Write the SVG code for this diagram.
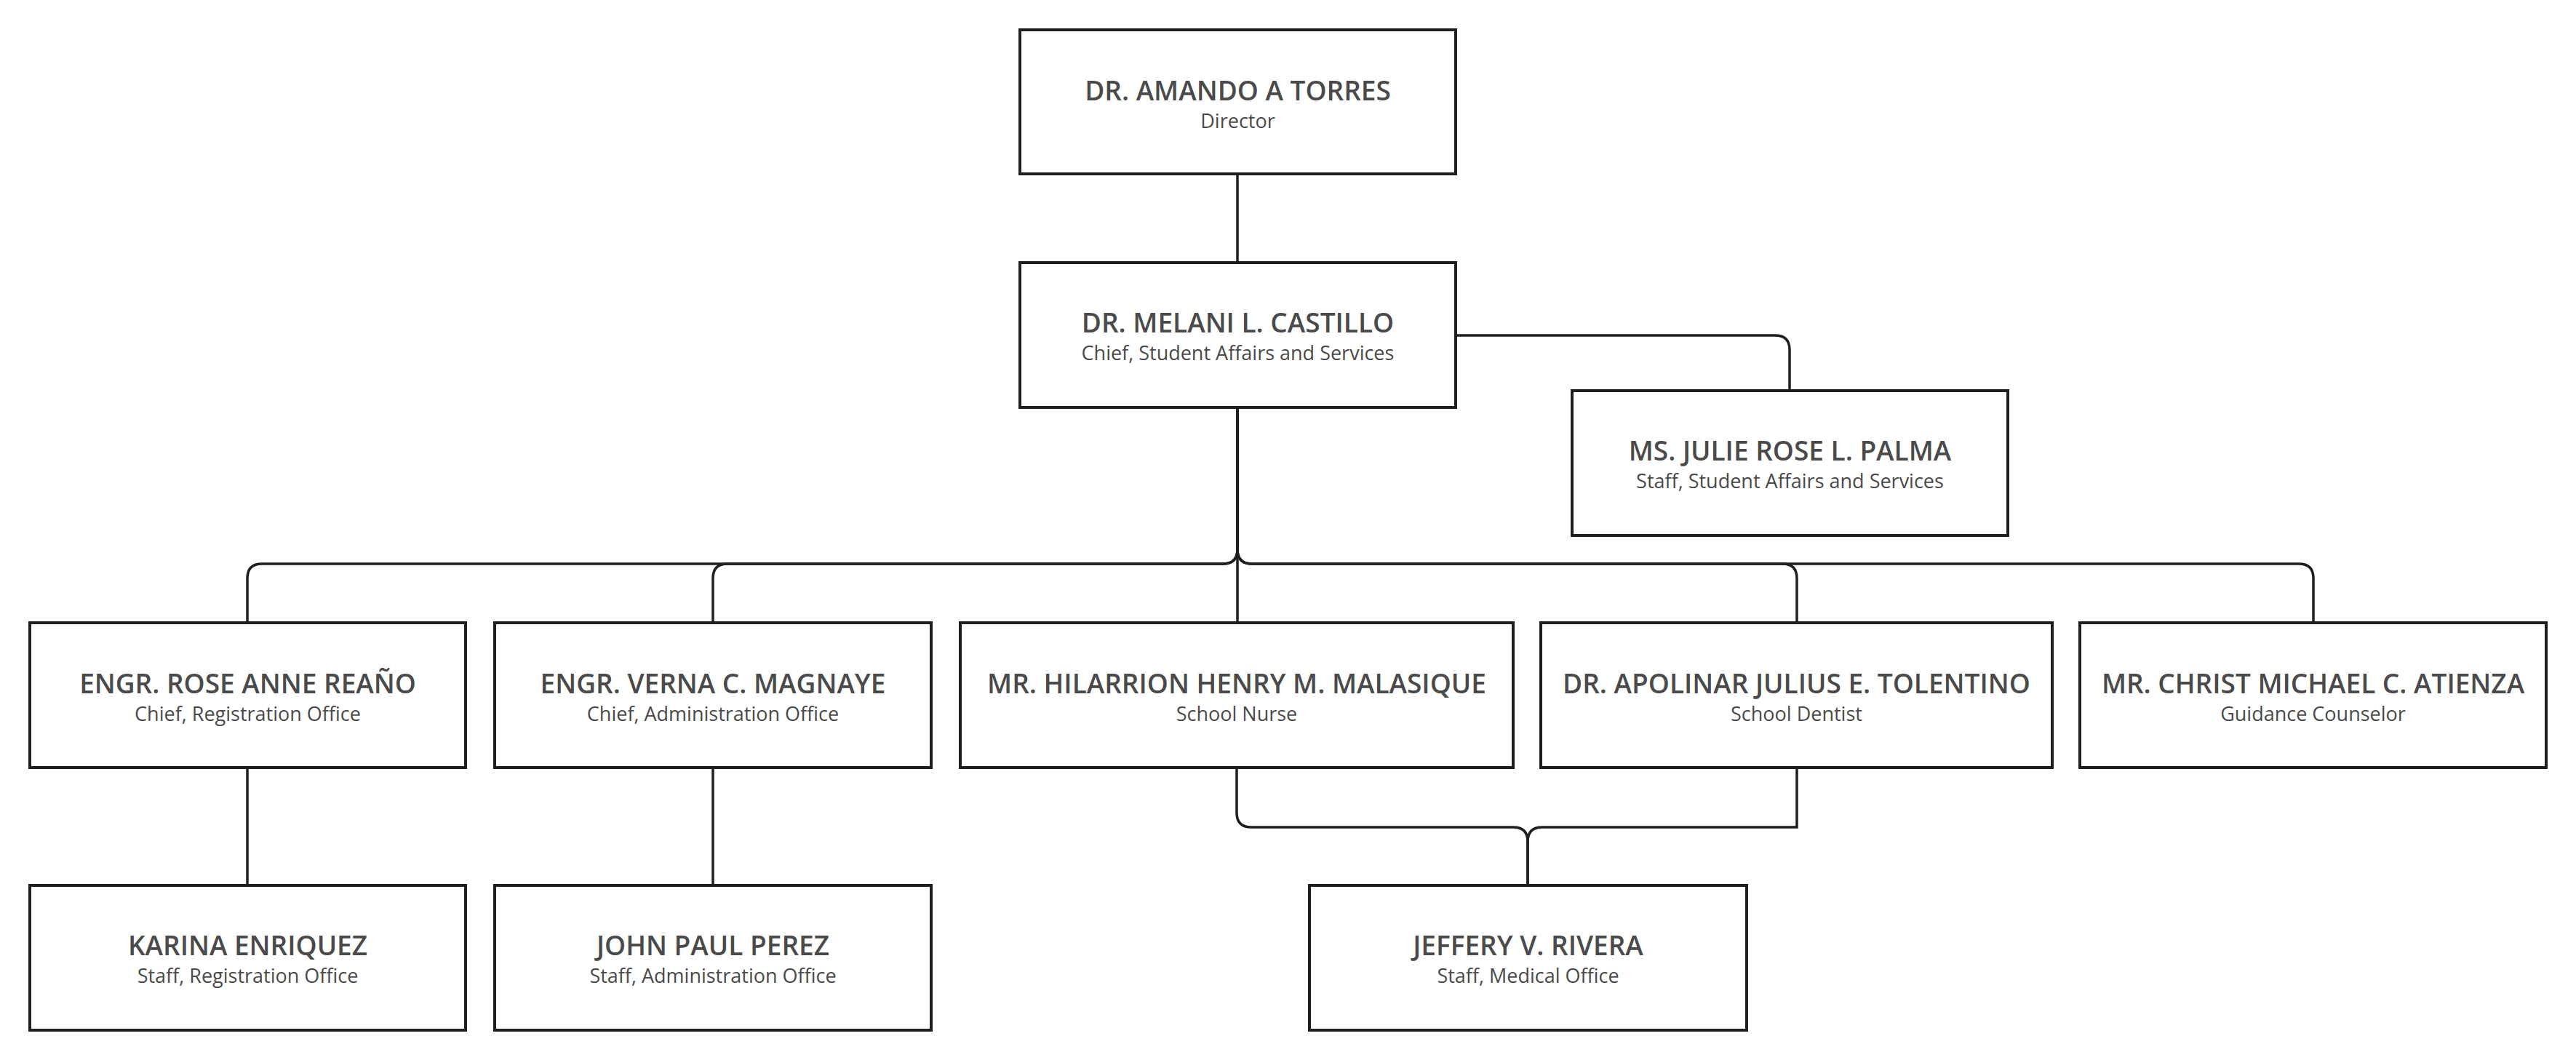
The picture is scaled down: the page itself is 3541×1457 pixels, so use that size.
<svg xmlns="http://www.w3.org/2000/svg" width="3541" height="1457" viewBox="0 0 3541 1457">
<style>
.box{fill:#ffffff;stroke:#1f1f1f;stroke-width:4}
.name{font-family:"Open Sans","Noto Sans",sans-serif;font-weight:600;font-size:37px;fill:#4a4a4a;text-anchor:middle}
.role{font-family:"Open Sans","Noto Sans",sans-serif;font-weight:400;font-size:27px;fill:#4a4a4a;text-anchor:middle}
.conn{fill:none;stroke:#1f1f1f;stroke-width:3.5}
</style>
<rect width="3541" height="1457" fill="#ffffff"/>
<g id="connectors">
<path class="conn" d="M1701,239 V361"/>
<path class="conn" d="M2001,461 H2440 Q2460,461 2460,481 V537"/>
<path class="conn" d="M1701,560 V755 Q1701,775 1681,775 H360 Q340,775 340,795 V856"/>
<path class="conn" d="M1701,560 V755 Q1701,775 1681,775 H1000 Q980,775 980,795 V856"/>
<path class="conn" d="M1701,560 V856"/>
<path class="conn" d="M1701,560 V755 Q1701,775 1721,775 H2450 Q2470,775 2470,795 V856"/>
<path class="conn" d="M1701,560 V755 Q1701,775 1721,775 H3160 Q3180,775 3180,795 V856"/>
<path class="conn" d="M340,1055 V1217"/>
<path class="conn" d="M980,1055 V1217"/>
<path class="conn" d="M1700,1055 V1117 Q1700,1137 1720,1137 H2080 Q2100,1137 2100,1157 V1217"/>
<path class="conn" d="M2470,1055 V1137 H2120 Q2100,1137 2100,1157 V1217"/>
</g>
<g id="director">
<rect class="box" x="1402" y="41" width="599" height="198"/>
<text class="name" x="1701.5" y="138">DR. AMANDO A TORRES</text>
<text class="role" x="1701.5" y="176">Director</text>
</g>
<g id="castillo">
<rect class="box" x="1402" y="361" width="599" height="199"/>
<text class="name" x="1701.5" y="457">DR. MELANI L. CASTILLO</text>
<text class="role" x="1701.5" y="495">Chief, Student Affairs and Services</text>
</g>
<g id="palma">
<rect class="box" x="2161" y="537" width="599" height="199"/>
<text class="name" x="2460.5" y="633">MS. JULIE ROSE L. PALMA</text>
<text class="role" x="2460.5" y="671">Staff, Student Affairs and Services</text>
</g>
<g id="reano">
<rect class="box" x="41" y="856" width="599" height="199"/>
<text class="name" x="340.5" y="953">ENGR. ROSE ANNE REAÑO</text>
<text class="role" x="340.5" y="991">Chief, Registration Office</text>
</g>
<g id="magnaye">
<rect class="box" x="680" y="856" width="600" height="199"/>
<text class="name" x="980" y="953">ENGR. VERNA C. MAGNAYE</text>
<text class="role" x="980" y="991">Chief, Administration Office</text>
</g>
<g id="malasique">
<rect class="box" x="1320" y="856" width="760" height="199"/>
<text class="name" x="1700" y="953">MR. HILARRION HENRY M. MALASIQUE</text>
<text class="role" x="1700" y="991">School Nurse</text>
</g>
<g id="tolentino">
<rect class="box" x="2118" y="856" width="703" height="199"/>
<text class="name" x="2469.5" y="953">DR. APOLINAR JULIUS E. TOLENTINO</text>
<text class="role" x="2469.5" y="991">School Dentist</text>
</g>
<g id="atienza">
<rect class="box" x="2859" y="856" width="641" height="199"/>
<text class="name" x="3179.5" y="953">MR. CHRIST MICHAEL C. ATIENZA</text>
<text class="role" x="3179.5" y="991">Guidance Counselor</text>
</g>
<g id="karina">
<rect class="box" x="41" y="1217" width="599" height="199"/>
<text class="name" x="340.5" y="1313">KARINA ENRIQUEZ</text>
<text class="role" x="340.5" y="1351">Staff, Registration Office</text>
</g>
<g id="johnpaul">
<rect class="box" x="680" y="1217" width="600" height="199"/>
<text class="name" x="980" y="1313">JOHN PAUL PEREZ</text>
<text class="role" x="980" y="1351">Staff, Administration Office</text>
</g>
<g id="jeffery">
<rect class="box" x="1800" y="1217" width="601" height="199"/>
<text class="name" x="2100.5" y="1313">JEFFERY V. RIVERA</text>
<text class="role" x="2100.5" y="1351">Staff, Medical Office</text>
</g>
</svg>
